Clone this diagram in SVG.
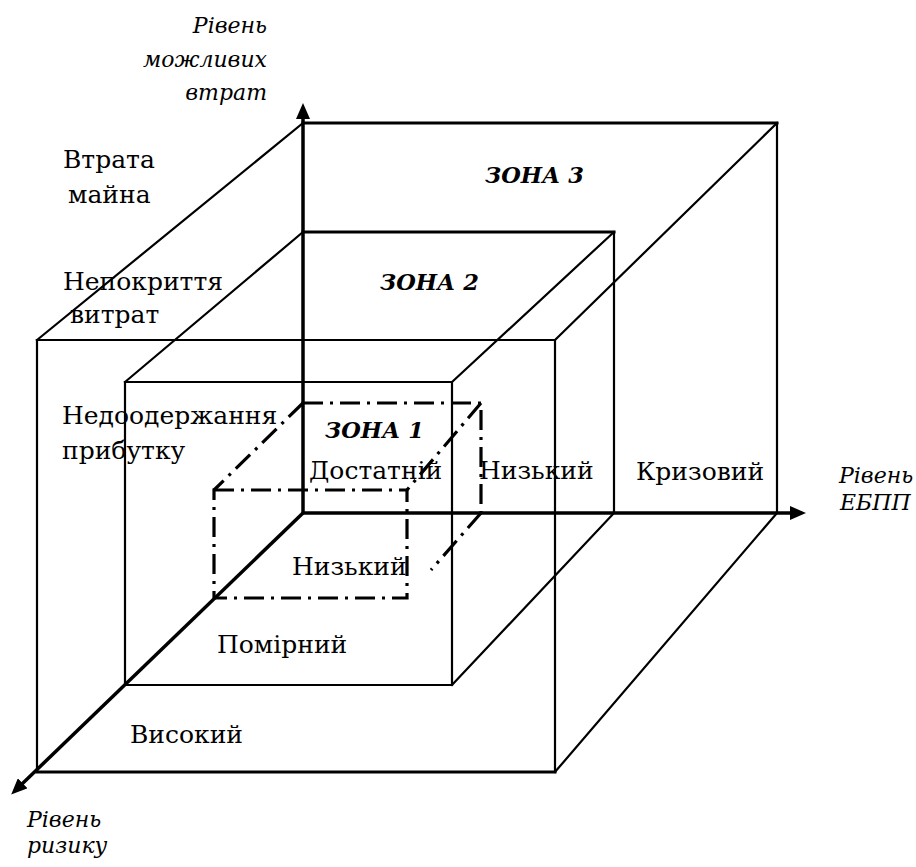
<svg xmlns="http://www.w3.org/2000/svg" width="916" height="867" viewBox="0 0 916 867">
<style>
.bg{fill:#fff}
.ln{fill:none;stroke:#000;stroke-width:2.2;stroke-linecap:square;stroke-linejoin:miter}
.th{stroke-width:3}
.dd{fill:none;stroke:#000;stroke-width:3.2;stroke-dasharray:20 7 3 7}
.ax{fill:none;stroke:#000;stroke-width:3.5}
.t{font-family:"DejaVu Serif","Liberation Serif",serif;font-size:25px;fill:#000}
.i{font-family:"DejaVu Serif","Liberation Serif",serif;font-size:22px;font-style:italic;fill:#000}
.z{font-family:"DejaVu Serif","Liberation Serif",serif;font-size:22.5px;font-style:italic;font-weight:bold;fill:#000}
</style>
<defs>
<marker id="arr" viewBox="0 0 16 14" refX="1" refY="7" markerWidth="16" markerHeight="14" markerUnits="userSpaceOnUse" orient="auto">
<path d="M0,0 L16,7 L0,14 Z" fill="#000"/>
</marker>
</defs>
<rect class="bg" width="916" height="867"/>
<g id="zone3">
<path class="ln th" d="M303,123 H777"/>
<path class="ln" d="M777,123 V513 M303,123 L37,340 M777,123 L555,340 M777,513 L555,772"/>
<path class="ln" d="M37,340 H555 V772"/>
<path class="ln" d="M37,340 V772"/>
<path class="ln th" d="M37,772 H555"/>
</g>
<g id="zone2">
<path class="ln th" d="M303,232 H614"/>
<path class="ln" d="M614,232 V513 M303,232 L125,382 M614,232 L452,382 M614,513 L452,685"/>
<path class="ln" d="M125,382 H452 V685 H125 Z"/>
</g>
<g id="zone1">
<path class="dd" d="M303,403 H481 V513"/>
<path class="dd" d="M303,403 L214,490 M481,403 L407,490 M481,513 L431,570"/>
<path class="dd" d="M214,490 H407 V598 H214 Z"/>
</g>
<g id="connectors">
<path class="ax" d="M303,513 V118" marker-end="url(#arr)"/>
<path class="ax" d="M303,513 H791" marker-end="url(#arr)"/>
<path class="ax" d="M303,513 L22,784" marker-end="url(#arr)"/>
</g>
<g id="labels">
<text class="i" x="267" y="33" text-anchor="end">Рівень</text>
<text class="i" x="267" y="67" text-anchor="end">можливих</text>
<text class="i" x="267" y="100" text-anchor="end">втрат</text>
<text class="i" x="839" y="483">Рівень</text>
<text class="i" x="840" y="510">ЕБПП</text>
<text class="i" x="27" y="827">Рівень</text>
<text class="i" x="27" y="853">ризику</text>
<text class="t" x="63" y="168">Втрата</text>
<text class="t" x="68" y="203">майна</text>
<text class="t" x="63" y="290">Непокриття</text>
<text class="t" x="70" y="323">витрат</text>
<text class="t" x="62" y="424">Недоодержання</text>
<text class="t" x="62" y="459">прибутку</text>
<text class="z" x="485" y="183">ЗОНА 3</text>
<text class="z" x="380" y="290">ЗОНА 2</text>
<text class="z" x="325" y="438">ЗОНА 1</text>
<text class="t" x="309" y="479">Достатній</text>
<text class="t" x="479" y="479">Низький</text>
<text class="t" x="636" y="480">Кризовий</text>
<text class="t" x="292" y="575">Низький</text>
<text class="t" x="217" y="653">Помірний</text>
<text class="t" x="130" y="743">Високий</text>
</g>
</svg>
